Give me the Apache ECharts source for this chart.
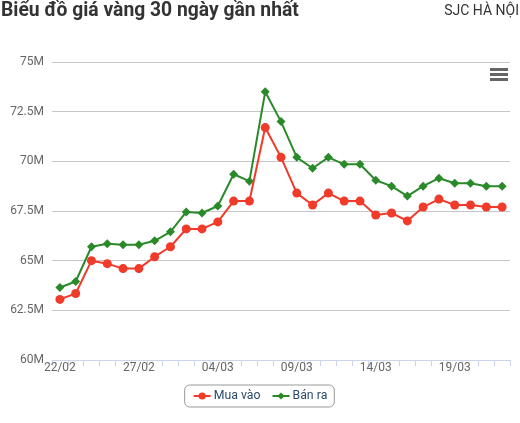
<!DOCTYPE html>
<html>
<head>
<meta charset="utf-8">
<script src="https://cdn.jsdelivr.net/npm/echarts@6/dist/echarts.min.js"></script>
<style>
html,body{margin:0;padding:0;background:#fff;}
#c{width:520px;height:423px;}
</style>
</head>
<body>
<div id="c"></div>
<script>
var categories = ['22/02','23/02','24/02','25/02','26/02','27/02','28/02','01/03','02/03','03/03','04/03','05/03','06/03','07/03','08/03','09/03','10/03','11/03','12/03','13/03','14/03','15/03','16/03','17/03','18/03','19/03','20/03','21/03','22/03'];
var muaVao = [63.05,63.35,65.0,64.85,64.6,64.6,65.2,65.7,66.6,66.6,66.95,68.0,68.0,71.7,70.2,68.4,67.8,68.4,68.0,68.0,67.3,67.4,67.0,67.7,68.1,67.8,67.8,67.7,67.7];
var banRa = [63.65,63.95,65.7,65.85,65.8,65.8,66.0,66.45,67.45,67.4,67.75,69.35,69.0,73.5,72.0,70.2,69.65,70.2,69.85,69.85,69.05,68.75,68.25,68.75,69.15,68.9,68.9,68.75,68.75];
var seriesNames = ['Mua vào','Bán ra'];
var titleText = 'Biểu đồ giá vàng 30 ngày gần nhất';
var subText = 'SJC HÀ NỘI';

function toVnd(arr){ return arr.map(function(v){ return Math.round(v*1e6); }); }

var chart = echarts.init(document.getElementById('c'), null, {renderer:'canvas'});
var font = 'Roboto, "Noto Sans", sans-serif';
chart.setOption({
  animation:false,
  textStyle:{fontFamily:font},
  title:[
    {text:titleText, left:-4, top:-3, textStyle:{fontSize:19.3, fontWeight:'bold', color:'#333', fontFamily:font}},
    {text:subText, right:-4, top:-1, textStyle:{fontSize:14, fontWeight:'normal', color:'#333', fontFamily:font}}
  ],
  grid:{left:52, right:10, top:62, bottom:63, containLabel:false},
  legend:{
    bottom:16, left:'center',
    data:seriesNames,
    borderColor:'#999', borderWidth:1, borderRadius:5,
    padding:[5,7,5,8],
    itemWidth:17, itemHeight:9, itemGap:11,
    textStyle:{fontSize:12.3, color:'#2b4b6b', fontFamily:font, padding:[0,0,0,-2]}
  },
  xAxis:{
    type:'category', data:categories, boundaryGap:true,
    axisLine:{show:true, lineStyle:{color:'#ccd6eb'}},
    axisTick:{show:true, interval:0, length:6, lineStyle:{color:'#ccd6eb'}},
    axisLabel:{interval:4, color:'#666', fontSize:12, margin:2, fontFamily:font},
    splitLine:{show:false}
  },
  yAxis:{
    type:'value', min:60e6, max:75e6, interval:2.5e6,
    axisLine:{show:false}, axisTick:{show:false},
    axisLabel:{color:'#666', fontSize:12, margin:8, fontFamily:font,
      formatter:function(v){ return (v/1e6) + 'M'; }},
    splitLine:{lineStyle:{color:'#c6c6c6', width:1}}
  },
  series:[
    {name:seriesNames[0], type:'line', data:toVnd(muaVao), color:'#f03a2a',
     symbol:'circle', symbolSize:9, lineStyle:{width:2}, itemStyle:{color:'#f03a2a'}, z:3},
    {name:seriesNames[1], type:'line', data:toVnd(banRa), color:'#2a8a2a',
     symbol:'diamond', symbolSize:9, lineStyle:{width:2}, itemStyle:{color:'#2a8a2a'}, z:2}
  ],
  graphic:[
    {type:'rect', left:490, top:68, shape:{width:18, height:3}, style:{fill:'#666'}},
    {type:'rect', left:490, top:73, shape:{width:18, height:3}, style:{fill:'#666'}},
    {type:'rect', left:490, top:78, shape:{width:18, height:3}, style:{fill:'#666'}}
  ]
});
</script>
</body>
</html>
